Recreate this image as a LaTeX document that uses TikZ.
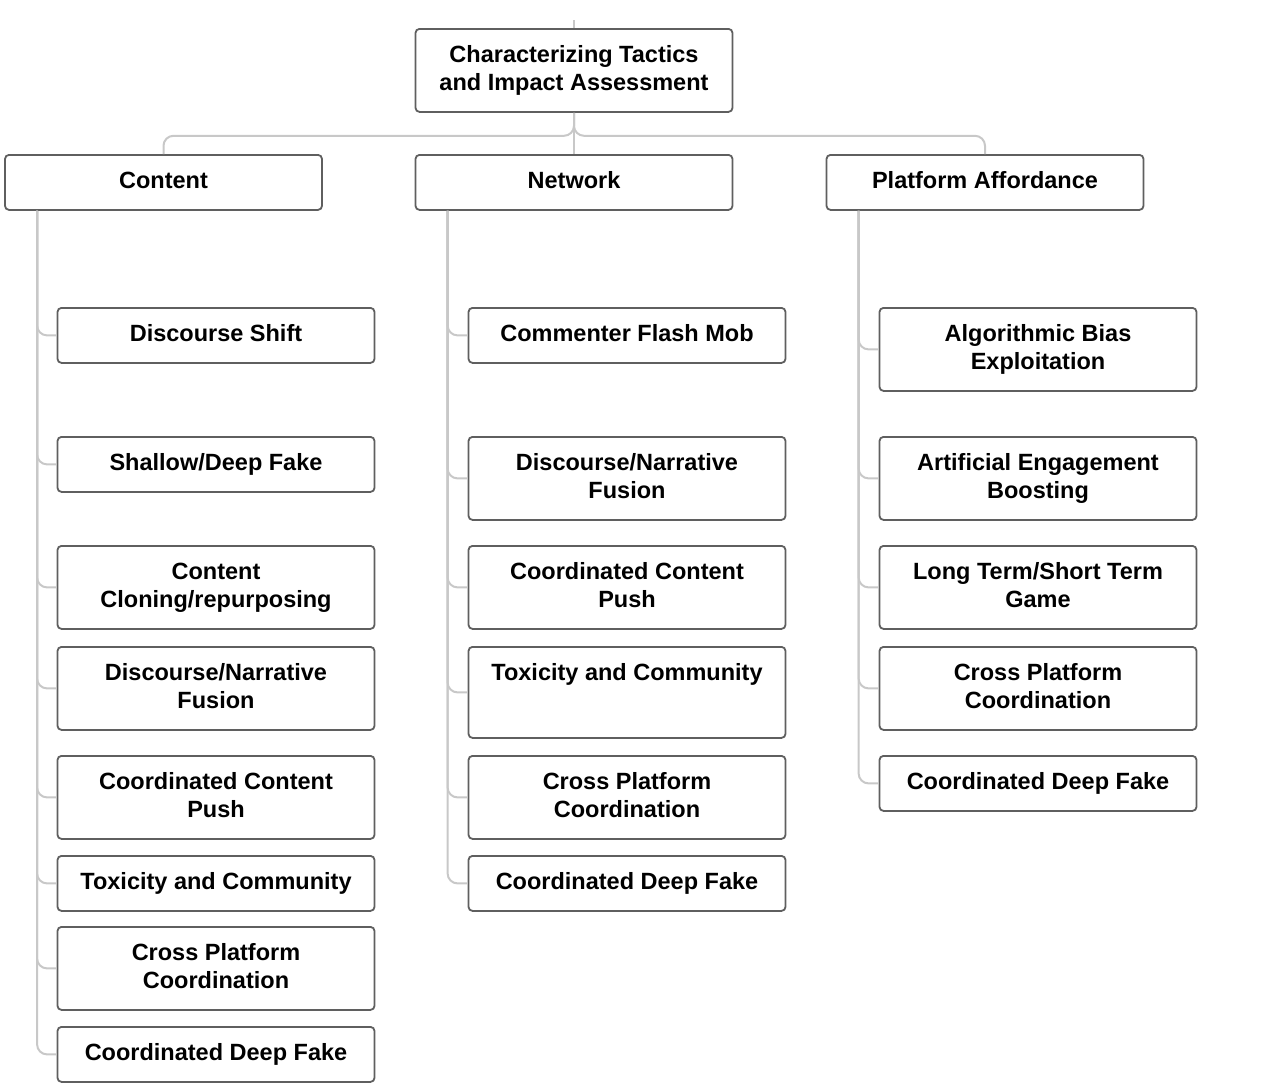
\documentclass[tikz,border=0pt]{standalone}
\usepackage{fontspec}
\setmainfont{Liberation Sans}
\definecolor{boxline}{RGB}{95,95,95}
\definecolor{connline}{RGB}{200,200,200}
\begin{document}
\begin{tikzpicture}[x=1pt, y=-1pt,
  box/.style={draw=boxline, line width=1.8pt, rounded corners=4pt, fill=white,
    minimum width=317pt, inner xsep=6pt, inner ysep=13.5pt, align=center,
    font=\bfseries\fontsize{23.5}{28}\selectfont,
    execute at begin node=\strut, execute at end node=\strut},
  twoline/.style={text height=48pt, text depth=8pt},
  conn/.style={draw=connline, line width=2pt, rounded corners=10pt}]
\useasboundingbox (0,0) rectangle (1264,1092);

% Root node
\node[box, twoline, anchor=north] (root) at (574,28) {Characterizing Tactics\\and Impact Assessment};
\coordinate (rtop) at (574,20);

% Category nodes
\node[box, anchor=north] (content) at (163.5,154) {Content};
\node[box, anchor=north] (network) at (574,154) {Network};
\node[box, anchor=north] (platform) at (985,154) {Platform Affordance};

% Content tactics
\node[box, anchor=north] (c1) at (216,307) {Discourse Shift};
\node[box, anchor=north] (c2) at (216,436) {Shallow/Deep Fake};
\node[box, twoline, anchor=north] (c3) at (216,545) {Content\\Cloning/repurposing};
\node[box, twoline, anchor=north] (c4) at (216,646) {Discourse/Narrative\\Fusion};
\node[box, twoline, anchor=north] (c5) at (216,755) {Coordinated Content\\Push};
\node[box, anchor=north] (c6) at (216,855) {Toxicity and Community};
\node[box, twoline, anchor=north] (c7) at (216,926) {Cross Platform\\Coordination};
\node[box, anchor=north] (c8) at (216,1026) {Coordinated Deep Fake};

% Network tactics
\node[box, anchor=north] (n1) at (627,307) {Commenter Flash Mob};
\node[box, twoline, anchor=north] (n2) at (627,436) {Discourse/Narrative\\Fusion};
\node[box, twoline, anchor=north] (n3) at (627,545) {Coordinated Content\\Push};
\node[box, anchor=north, text depth=44.4pt] (n4) at (627,646) {Toxicity and Community};
\node[box, twoline, anchor=north] (n5) at (627,755) {Cross Platform\\Coordination};
\node[box, anchor=north] (n6) at (627,855) {Coordinated Deep Fake};

% Platform affordance tactics
\node[box, twoline, anchor=north] (p1) at (1038,307) {Algorithmic Bias\\Exploitation};
\node[box, twoline, anchor=north] (p2) at (1038,436) {Artificial Engagement\\Boosting};
\node[box, twoline, anchor=north] (p3) at (1038,545) {Long Term/Short Term\\Game};
\node[box, twoline, anchor=north] (p4) at (1038,646) {Cross Platform\\Coordination};
\node[box, anchor=north] (p5) at (1038,755) {Coordinated Deep Fake};

% Trunk starts
\coordinate (ctrunk) at ([xshift=33pt]content.south west);
\coordinate (ntrunk) at ([xshift=33pt]network.south west);
\coordinate (ptrunk) at ([xshift=33pt]platform.south west);

% Connections from root
\draw[conn] (rtop) -- (root.north);
\draw[conn] (root.south) -- ++(0,23) -| (content.north);
\draw[conn] (root.south) -- ++(0,23) -| (platform.north);
\draw[conn] (root.south) -- (network.north);

% Content connections
\draw[conn] (ctrunk) |- (c1.west);
\draw[conn] (ctrunk) |- (c2.west);
\draw[conn] (ctrunk) |- (c3.west);
\draw[conn] (ctrunk) |- (c4.west);
\draw[conn] (ctrunk) |- (c5.west);
\draw[conn] (ctrunk) |- (c6.west);
\draw[conn] (ctrunk) |- (c7.west);
\draw[conn] (ctrunk) |- (c8.west);

% Network connections
\draw[conn] (ntrunk) |- (n1.west);
\draw[conn] (ntrunk) |- (n2.west);
\draw[conn] (ntrunk) |- (n3.west);
\draw[conn] (ntrunk) |- (n4.west);
\draw[conn] (ntrunk) |- (n5.west);
\draw[conn] (ntrunk) |- (n6.west);

% Platform connections
\draw[conn] (ptrunk) |- (p1.west);
\draw[conn] (ptrunk) |- (p2.west);
\draw[conn] (ptrunk) |- (p3.west);
\draw[conn] (ptrunk) |- (p4.west);
\draw[conn] (ptrunk) |- (p5.west);
\end{tikzpicture}
\end{document}
